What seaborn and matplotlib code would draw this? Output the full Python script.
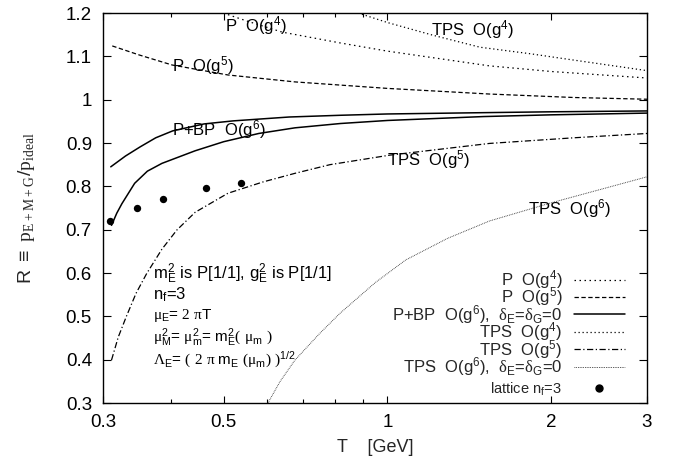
import numpy as np
import pandas as pd
import matplotlib
matplotlib.use("Agg")
import matplotlib.pyplot as plt
import seaborn as sns
from matplotlib.lines import Line2D
from matplotlib.ticker import FixedLocator, NullFormatter

# ---------------- data ----------------
p4_T = [0.499, 0.55, 0.64, 0.818, 1.0, 1.54, 2.0, 3.0]
p4_R = [1.200, 1.182, 1.156, 1.131, 1.112, 1.078, 1.065, 1.050]

t4_T = [0.883, 1.0, 1.21, 1.48, 1.83, 2.1, 3.0]
t4_R = [1.200, 1.178, 1.149, 1.121, 1.106, 1.095, 1.067]

p5_T = [0.312, 0.35, 0.402, 0.509, 0.676, 1.0, 1.54, 2.2, 3.0]
p5_R = [1.124, 1.103, 1.080, 1.057, 1.041, 1.026, 1.013, 1.005, 1.001]

bp_hi_T = [0.310, 0.33, 0.351, 0.375, 0.403, 0.46, 0.52, 0.66, 0.82, 1.0, 1.5, 2.0, 3.0]
bp_hi_R = [0.845, 0.870, 0.891, 0.912, 0.928, 0.944, 0.951, 0.960, 0.964, 0.967, 0.970, 0.972, 0.974]

bp_lo_T = [0.311, 0.318, 0.325, 0.343, 0.362, 0.385, 0.443, 0.50, 0.58, 0.676, 0.82, 1.0, 1.5, 2.0, 3.0]
bp_lo_R = [0.710, 0.738, 0.760, 0.807, 0.835, 0.853, 0.882, 0.903, 0.922, 0.935, 0.945, 0.952, 0.961, 0.965, 0.969]

t5_T = [0.311, 0.320, 0.331, 0.345, 0.361, 0.385, 0.410, 0.443, 0.509, 0.59, 0.676, 0.784, 1.01, 1.54, 2.2, 3.0]
t5_R = [0.399, 0.452, 0.499, 0.553, 0.599, 0.655, 0.699, 0.740, 0.784, 0.810, 0.830, 0.850, 0.872, 0.899, 0.912, 0.922]

t6_T = [0.603, 0.635, 0.676, 0.75, 0.818, 0.95, 1.08, 1.29, 1.54, 2.0, 2.5, 3.0]
t6_R = [0.300, 0.350, 0.399, 0.460, 0.507, 0.578, 0.630, 0.680, 0.720, 0.762, 0.795, 0.822]

lat_T = [0.309, 0.347, 0.386, 0.463, 0.539]
lat_R = [0.720, 0.751, 0.771, 0.797, 0.808]

x_ticks = [0.3, 0.5, 1, 2, 3]
x_ticklabels = ["0.3", "0.5", "1", "2", "3"]
x_minor = [0.4, 0.6, 0.7, 0.8, 0.9]
y_ticks = [0.3, 0.4, 0.5, 0.6, 0.7, 0.8, 0.9, 1.0, 1.1, 1.2]
y_ticklabels = ["0.3", "0.4", "0.5", "0.6", "0.7", "0.8", "0.9", "1", "1.1", "1.2"]

# ---------------- style ----------------
sns.set_theme(style="ticks")
plt.rcParams['font.family'] = ['Liberation Sans', 'DejaVu Sans']
plt.rcParams['mathtext.fontset'] = 'custom'
plt.rcParams['mathtext.rm'] = 'Liberation Sans'
plt.rcParams['mathtext.it'] = 'Liberation Sans'
plt.rcParams['mathtext.bf'] = 'Liberation Sans:bold'
plt.rcParams['mathtext.sf'] = 'Liberation Serif'
plt.rcParams['mathtext.fallback'] = 'stix'

fig = plt.figure(figsize=(6.78, 4.66), dpi=100)
ax = fig.add_axes([103/678, 1-403/466, 544/678, 390/466])
ax.set_facecolor("white")

styles = {
    "p4": dict(color="black", lw=0.9, linestyle=(0, (1.2, 2.8))),
    "p5": dict(color="black", lw=0.9, linestyle=(0, (3.5, 2.0))),
    "bp": dict(color="black", lw=1.1, linestyle="-"),
    "t4": dict(color="black", lw=0.9, linestyle=(0, (1.0, 2.2))),
    "t5": dict(color="black", lw=0.9, linestyle=(0, (5, 2, 1, 2))),
    "t6": dict(color="#333333", lw=0.7, linestyle=(0, (0.8, 1.0))),
}

def draw(T, R, key):
    df = pd.DataFrame({"T": T, "R": R})
    sns.lineplot(data=df, x="T", y="R", ax=ax, estimator=None, sort=False,
                 legend=False, **styles[key])

draw(p4_T, p4_R, "p4")
draw(t4_T, t4_R, "t4")
draw(p5_T, p5_R, "p5")
draw(bp_hi_T, bp_hi_R, "bp")
draw(bp_lo_T, bp_lo_R, "bp")
draw(t5_T, t5_R, "t5")
draw(t6_T, t6_R, "t6")

lat = pd.DataFrame({"T": lat_T, "R": lat_R})
sns.scatterplot(data=lat, x="T", y="R", ax=ax, color="black", s=28,
                edgecolor="black", linewidth=0, legend=False, zorder=5)

# ---------------- axes ----------------
ax.set_xscale("log")
ax.set_xlim(0.3, 3)
ax.set_ylim(0.3, 1.2)
ax.xaxis.set_major_locator(FixedLocator(x_ticks))
ax.set_xticklabels(x_ticklabels)
ax.xaxis.set_minor_locator(FixedLocator(x_minor))
ax.xaxis.set_minor_formatter(NullFormatter())
ax.set_yticks(y_ticks)
ax.set_yticklabels(y_ticklabels)
ax.tick_params(which="both", direction="in", top=True, right=True,
               colors="black", labelsize=13.5, width=0.8)
ax.tick_params(axis="x", which="major", length=5, pad=8)
ax.tick_params(axis="x", which="minor", length=3)
ax.tick_params(axis="y", which="major", length=6, pad=8)
for s in ax.spines.values():
    s.set_linewidth(1.0)
    s.set_color("black")

ax.set_xlabel("T    [GeV]", fontsize=13)
ax.xaxis.set_label_coords(0.5, (403-447)/390)
ax.xaxis.label.set_va("center")
ax.set_ylabel(r"R $\equiv$ $\mathsf{p}_{\mathsf{E+M+G}}/\mathsf{p}_{\mathsf{ideal}}$", fontsize=14)
ax.yaxis.set_label_coords((27-103)/544, 0.5)
ax.yaxis.label.set_va("center")

# ---------------- curve labels ----------------
lab_kw = dict(fontsize=12, va="center", ha="left", color="black")
ax.text(0.502, 1.170, r"P  O(g$^{4}$)", **lab_kw)
ax.text(1.20, 1.161, r"TPS  O(g$^{4}$)", **lab_kw)
ax.text(0.402, 1.078, r"P  O(g$^{5}$)", **lab_kw)
ax.text(0.402, 0.930, r"P+BP  O(g$^{6}$)", **lab_kw)
ax.text(0.998, 0.861, r"TPS  O(g$^{5}$)", **lab_kw)
ax.text(1.81, 0.748, r"TPS  O(g$^{6}$)", **lab_kw)

# ---------------- annotation block ----------------
ann_kw = dict(va="center", ha="left", color="black")
ax.text(0.371, 0.598, r"m$_E^2$ is P[1/1], g$_E^2$ is P[1/1]", fontsize=12, **ann_kw)
ax.text(0.371, 0.549, r"n$_f$=3", fontsize=12, **ann_kw)
ax.text(0.371, 0.503, r"$\mathsf{\mu}_E$= $\mathsf{2\ \pi}$T", fontsize=11, **ann_kw)
ax.text(0.371, 0.450, r"$\mathsf{\mu}_M^2$= $\mathsf{\mu}_m^2$= m$_E^2$$\mathsf{(\ \mu}_{m}\ \mathsf{)}$", fontsize=11, **ann_kw)
ax.text(0.371, 0.399, r"$\mathsf{\Lambda}_E$= $\mathsf{(\ 2\ \pi}$ m$_E$ $\mathsf{(\mu}_{m}\mathsf{)\ )}^{1/2}$", fontsize=11, **ann_kw)

# ---------------- legends ----------------
handles = [
    Line2D([], [], **styles["p4"]),
    Line2D([], [], **styles["p5"]),
    Line2D([], [], **styles["bp"]),
    Line2D([], [], **styles["t4"]),
    Line2D([], [], **styles["t5"]),
    Line2D([], [], **styles["t6"]),
]
labels = [
    r"P  O(g$^{4}$)",
    r"P  O(g$^{5}$)",
    r"P+BP  O(g$^{6}$),  $\mathsf{\delta}_E$=$\mathsf{\delta}_G$=0",
    r"TPS  O(g$^{4}$)",
    r"TPS  O(g$^{5}$)",
    r"TPS  O(g$^{6}$),  $\mathsf{\delta}_E$=$\mathsf{\delta}_G$=0",
]
leg = ax.legend(handles, labels, loc="lower right",
                bbox_to_anchor=((625-103)/544, (403-378)/390),
                frameon=False, markerfirst=False, fontsize=12,
                handlelength=3.06, handletextpad=0.7, labelspacing=-0.33,
                borderpad=0, borderaxespad=0)
for t in leg.get_texts():
    t.set_ha("right")
ax.add_artist(leg)

leg2 = ax.legend([Line2D([], [], color="black", marker="o", markersize=5, linestyle="none")],
                 [r"lattice n$_f$=3"], loc="lower right",
                 bbox_to_anchor=((625-103)/544, (403-398)/390),
                 frameon=False, markerfirst=False, fontsize=10.5,
                 handlelength=3.5, handletextpad=0.82,
                 borderpad=0, borderaxespad=0)

fig.savefig("out.png", dpi=100, facecolor="white")
